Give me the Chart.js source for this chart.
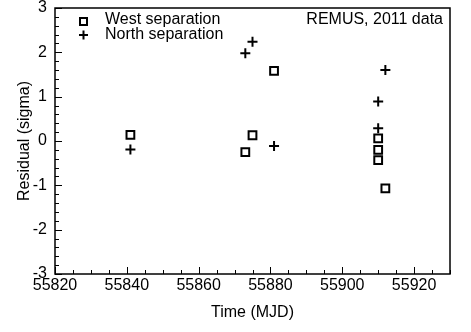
<!DOCTYPE html>
<html>
<head>
<meta charset="utf-8">
<script src="https://cdn.jsdelivr.net/npm/chart.js@4/dist/chart.umd.min.js"></script>
<style>
    html, body { margin: 0; padding: 0; background: #ffffff; }
    #wrap { width: 471px; height: 332px; }
</style>
</head>
<body>
<div id="wrap"><canvas id="residuals"></canvas></div>
<script>
'use strict'

// data
var westTime = [55841, 55873, 55875, 55881, 55910, 55910, 55910, 55912];
var westResid = [0.14, -0.25, 0.13, 1.58, 0.06, -0.20, -0.43, -1.07];
var northTime = [55841, 55873, 55875, 55881, 55910, 55910, 55912];
var northResid = [-0.19, 1.98, 2.24, -0.11, 0.89, 0.29, 1.60];
var yTicks = [-3, -2, -1, 0, 1, 2, 3];
var xTicks = [55820, 55840, 55860, 55880, 55900, 55920];

var fontFamily = '"Liberation Sans", Arial, Helvetica, sans-serif';

function toPoints(xs, ys) {
    return xs.map(function (x, i) { return { x: x, y: ys[i] }; });
}

/* frame, inward ticks, legend and note */
var framePlugin = {
    id: 'frame',
    afterDraw: function (chart) {
        var ctx = chart.ctx;
        var a = chart.chartArea;
        var xs = chart.scales.x;
        var ys = chart.scales.y;
        ctx.save();
        ctx.strokeStyle = '#000';
        ctx.lineWidth = 1.5;
        ctx.strokeRect(a.left, a.top, a.right - a.left, a.bottom - a.top);

        ctx.lineWidth = 1;
        ctx.beginPath();
        for (var v = 55820; v <= 55930; v += 5) {
            var px = Math.round(xs.getPixelForValue(v)) + 0.5;
            var len = (v % 20 === 0) ? 7 : 4;
            ctx.moveTo(px, a.bottom);
            ctx.lineTo(px, a.bottom - len);
        }
        for (var k = -15; k <= 15; k++) {
            var py = Math.round(ys.getPixelForValue(k / 5)) + 0.5;
            var ylen = (k % 5 === 0) ? 7 : 4;
            ctx.moveTo(a.left, py);
            ctx.lineTo(a.left + ylen, py);
        }
        ctx.stroke();

        // legend
        ctx.lineWidth = 2;
        ctx.strokeRect(a.left + 25, a.top + 10, 7, 7);
        ctx.beginPath();
        ctx.moveTo(a.left + 24, a.top + 27);
        ctx.lineTo(a.left + 33, a.top + 27);
        ctx.moveTo(a.left + 28.5, a.top + 22.5);
        ctx.lineTo(a.left + 28.5, a.top + 31.5);
        ctx.stroke();

        ctx.fillStyle = '#000';
        ctx.font = '16px ' + fontFamily;
        ctx.textBaseline = 'middle';
        ctx.textAlign = 'left';
        ctx.fillText('West separation', a.left + 50, a.top + 12);
        ctx.fillText('North separation', a.left + 50, a.top + 27);
        ctx.textAlign = 'right';
        ctx.fillText('REMUS, 2011 data', a.right - 7, a.top + 12);
        ctx.restore();
    }
};

var ctx = document.getElementById('residuals').getContext('2d');
var residChart = new Chart(ctx, {
    type: 'scatter',
    data: {
        datasets: [{
            label: 'West separation',
            data: toPoints(westTime, westResid),
            pointStyle: 'rect',
            radius: 5.5,
            borderWidth: 2,
            borderColor: '#000',
            backgroundColor: 'rgba(0,0,0,0)'
        }, {
            label: 'North separation',
            data: toPoints(northTime, northResid),
            pointStyle: 'cross',
            radius: 5,
            borderWidth: 2,
            borderColor: '#000',
            backgroundColor: '#000'
        }]
    },
    options: {
        responsive: true,
        maintainAspectRatio: false,
        animation: false,
        events: [],
        layout: {
            padding: { top: 8, right: 21, left: 0, bottom: 0 }
        },
        plugins: {
            legend: { display: false },
            tooltip: { enabled: false }
        },
        scales: {
            x: {
                type: 'linear',
                min: 55820,
                max: 55930,
                afterBuildTicks: function (scale) {
                    scale.ticks = xTicks.map(function (v) { return { value: v }; });
                },
                afterFit: function (scale) {
                    scale.height = 58;
                    scale.paddingLeft = 0;
                    scale.paddingRight = 0;
                },
                grid: { display: false, drawTicks: false },
                border: { display: false },
                ticks: {
                    color: '#000',
                    padding: 2,
                    maxRotation: 0,
                    autoSkip: false,
                    font: { family: fontFamily, size: 16 },
                    callback: function (v) { return String(v); }
                },
                title: {
                    display: true,
                    text: 'Time (MJD)',
                    color: '#000',
                    padding: { top: 0, bottom: 10 },
                    font: { family: fontFamily, size: 16 }
                }
            },
            y: {
                min: -3,
                max: 3,
                afterBuildTicks: function (scale) {
                    scale.ticks = yTicks.map(function (v) { return { value: v }; });
                },
                afterFit: function (scale) {
                    scale.width = 55;
                    scale.paddingTop = 0;
                    scale.paddingBottom = 0;
                },
                grid: { display: false, drawTicks: false },
                border: { display: false },
                ticks: {
                    color: '#000',
                    padding: 8,
                    autoSkip: false,
                    font: { family: fontFamily, size: 16 }
                },
                title: {
                    display: true,
                    text: 'Residual (sigma)',
                    color: '#000',
                    padding: { top: 15, bottom: 0 },
                    font: { family: fontFamily, size: 16 }
                }
            }
        }
    },
    plugins: [framePlugin]
});
</script>
</body>
</html>
